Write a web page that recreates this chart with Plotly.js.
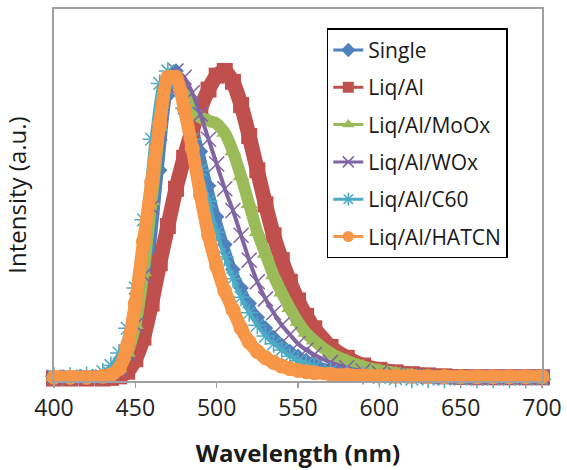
<!DOCTYPE html>
<html>
<head>
<meta charset="utf-8">
<script src="https://cdn.plot.ly/plotly-3.0.1.min.js"></script>
<style>html,body{margin:0;padding:0;background:#fff;}#chart{width:567px;height:470px;}</style>
</head>
<body>
<div id="chart"></div>
<script>
// Wavelength (nm)
const wavelength = [400,410,420,430,435,440,445,450,455,460,465,470,475,480,485,490,495,500,505,510,515,520,525,530,535,540,545,550,555,560,570,580,590,600,610,620,630,640,650,660,670,680,690,700];

const seriesNames = ["Single","Liq/Al","Liq/Al/MoOx","Liq/Al/WOx","Liq/Al/C60","Liq/Al/HATCN"];

const single = [0.012,0.012,0.013,0.015,0.02,0.04,0.06,0.10,0.22,0.42,0.68,0.92,1.0,0.93,0.84,0.74,0.63,0.53,0.44,0.36,0.30,0.25,0.205,0.17,0.14,0.115,0.095,0.08,0.066,0.055,0.04,0.03,0.022,0.018,0.015,0.013,0.012,0.012,0.012,0.012,0.012,0.012,0.012,0.012];
const liqAl = [0.008,0.008,0.008,0.008,0.01,0.015,0.03,0.07,0.14,0.25,0.38,0.50,0.62,0.72,0.81,0.88,0.94,0.985,1.0,0.965,0.89,0.79,0.68,0.57,0.47,0.39,0.32,0.26,0.21,0.17,0.11,0.075,0.05,0.036,0.028,0.022,0.018,0.015,0.013,0.012,0.012,0.012,0.012,0.012];
const moox = [0.012,0.012,0.012,0.013,0.02,0.04,0.09,0.18,0.35,0.58,0.82,0.97,0.98,0.93,0.88,0.85,0.84,0.83,0.80,0.74,0.66,0.57,0.48,0.41,0.34,0.285,0.235,0.19,0.155,0.13,0.09,0.065,0.047,0.034,0.026,0.02,0.017,0.015,0.013,0.013,0.013,0.013,0.013,0.013];
const wox = [0.012,0.012,0.012,0.013,0.02,0.04,0.09,0.18,0.34,0.56,0.80,0.95,1.0,0.98,0.93,0.86,0.78,0.70,0.62,0.55,0.47,0.39,0.32,0.265,0.22,0.18,0.15,0.12,0.10,0.085,0.06,0.043,0.032,0.025,0.02,0.017,0.015,0.013,0.013,0.013,0.013,0.013,0.013,0.013];
const c60 = [0.015,0.015,0.018,0.03,0.05,0.09,0.17,0.30,0.52,0.78,0.96,1.0,0.96,0.88,0.78,0.68,0.58,0.48,0.40,0.33,0.27,0.22,0.18,0.145,0.12,0.10,0.08,0.065,0.055,0.045,0.032,0.024,0.018,0.012,0.008,0.006,0.006,0.006,0.006,0.006,0.006,0.006,0.006,0.006];
const hatcn = [0.012,0.012,0.012,0.015,0.02,0.04,0.11,0.25,0.45,0.64,0.83,0.98,0.98,0.88,0.75,0.60,0.47,0.37,0.29,0.23,0.17,0.125,0.095,0.075,0.06,0.048,0.04,0.034,0.03,0.027,0.022,0.019,0.017,0.016,0.015,0.015,0.014,0.014,0.014,0.014,0.014,0.014,0.014,0.014];

const xTicks = [400,450,500,550,600,650,700];

const seriesValues = [single, liqAl, moox, wox, c60, hatcn];
const colors = ["#4F81BD","#C0504D","#9BBB59","#8064A2","#4BACC6","#F79646"];
const symbols = ["diamond","square","triangle-up","x-thin-open","asterisk-open","circle"];
const bandWidth = [8,15,12,4,4,13];
const markSize = [12,16,15,15,15,15];

const traces = [];
seriesValues.forEach((vals, i) => {
  const open = symbols[i].indexOf('open') >= 0;
  traces.push({
    x: wavelength, y: vals, type: 'scatter', mode: 'lines+markers',
    name: seriesNames[i], showlegend: false, cliponaxis: false,
    line: {color: colors[i], width: bandWidth[i], shape: 'spline', smoothing: 0.6},
    marker: {symbol: symbols[i], size: markSize[i], color: colors[i], line: {color: colors[i], width: open ? 1.5 : 0}}
  });
});
// legend entries
seriesValues.forEach((vals, i) => {
  const open = symbols[i].indexOf('open') >= 0;
  traces.push({
    x: [null], y: [null], type: 'scatter', mode: 'lines+markers',
    name: seriesNames[i], legendgroup: 'g' + i, showlegend: true,
    line: {color: colors[i], width: 3},
    marker: {symbol: symbols[i], size: 11, color: colors[i], line: {color: colors[i], width: open ? 1.5 : 0}}
  });
});

const layout = {
  width: 567, height: 470,
  margin: {l: 54, r: 25, t: 9, b: 89},
  paper_bgcolor: '#ffffff', plot_bgcolor: '#ffffff',
  font: {family: '"Open Sans", Lato, sans-serif', color: '#1a1a1a'},
  xaxis: {
    range: [400, 700], tickvals: xTicks, ticktext: xTicks.map(String),
    showgrid: false, zeroline: false,
    showline: true, mirror: true, linecolor: '#a0a0a0', linewidth: 2,
    ticks: 'outside', ticklen: 5, tickcolor: '#a0a0a0', tickwidth: 1.5,
    tickfont: {size: 23, color: '#222'},
    title: {text: '<b>Wavelength (nm)</b>', font: {size: 24, color: '#1a1a1a'}, standoff: 24}
  },
  yaxis: {
    range: [0, 1.2], showticklabels: false, ticks: '', showgrid: false, zeroline: false,
    showline: true, mirror: true, linecolor: '#a0a0a0', linewidth: 2,
    title: {text: 'Intensity (a.u.)', font: {size: 24, color: '#1a1a1a'}, standoff: 28}
  },
  legend: {
    x: 0.559, y: 0.948, xanchor: 'left', yanchor: 'top',
    bgcolor: '#ffffff', bordercolor: '#000000', borderwidth: 1.5,
    font: {size: 21, color: '#1a1a1a'}, tracegroupgap: 7, traceorder: 'grouped'
  },
  showlegend: true
};

Plotly.newPlot('chart', traces, layout, {staticPlot: true, displayModeBar: false});
</script>
</body>
</html>
